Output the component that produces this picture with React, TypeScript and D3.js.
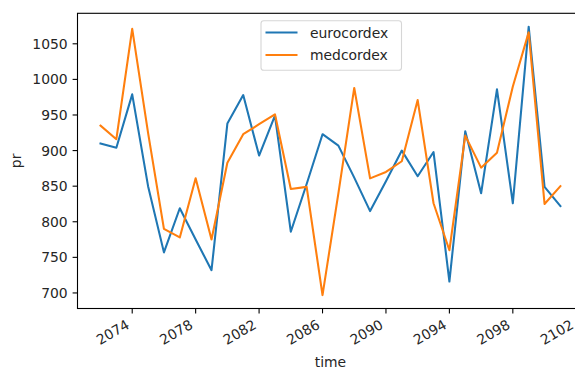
import React from "react";
import * as d3 from "d3";

const years = d3.range(2072, 2102);
const eurocordex = [910, 904, 979, 850, 757, 819, 775, 732, 938, 978, 893, 949, 786, 853, 923, 907, 862, 815, 857, 900, 864, 898, 716, 927, 840, 986, 826, 1074, 849, 822];
const medcordex = [935, 916, 1071, 925, 790, 778, 861, 775, 883, 923, 937, 951, 846, 849, 697, 840, 988, 861, 870, 885, 971, 826, 760, 921, 876, 897, 990, 1066, 825, 850];
const xTicks = [2074, 2078, 2082, 2086, 2090, 2094, 2098, 2102];
const yTicks = [700, 750, 800, 850, 900, 950, 1000, 1050];
const seriesNames = ["eurocordex", "medcordex"];
const colors = ["#1f77b4", "#ff7f0e"];

const W = 575, H = 371;
const L = 77.5, R = 583.4, T = 13.3, B = 308.5;
const FONT = "DejaVu Sans, sans-serif";
const FS = 13.9;

export default function App() {
  const x = d3.scaleLinear().domain([2070.55, 2102.45]).range([L, R]);
  const all = [...eurocordex, ...medcordex];
  const [mn, mx] = d3.extent(all) as [number, number];
  const pad = (mx - mn) * 0.05;
  const y = d3.scaleLinear().domain([mn - pad, mx + pad]).range([B, T]);
  const series = [eurocordex, medcordex];
  const line = d3.line<number>().x((_, i) => x(years[i])).y((d) => y(d));

  return (
    <div style={{ position: "absolute", left: 0, top: 0 }}>
      <svg width={W} height={H} style={{ display: "block" }} fontFamily={FONT}>
        <rect x={0} y={0} width={W} height={H} fill="#fff" />
        <defs>
          <clipPath id="plot">
            <rect x={L} y={T} width={R - L} height={B - T} />
          </clipPath>
        </defs>
        <g clipPath="url(#plot)">
          {series.map((s, k) => (
            <path key={k} d={line(s) || ""} fill="none" stroke={colors[k]} strokeWidth={2.08} strokeLinejoin="round" strokeLinecap="square" />
          ))}
        </g>
        {/* spines */}
        <rect x={L} y={T} width={R - L} height={B - T} fill="none" stroke="#000" strokeWidth={1.1} />
        {/* y ticks */}
        {yTicks.map((t) => (
          <g key={t}>
            <line x1={L - 4.9} x2={L} y1={y(t)} y2={y(t)} stroke="#000" strokeWidth={1.1} />
            <text x={L - 9.8} y={y(t)} dy="0.36em" textAnchor="end" fontSize={FS} fill="#262626">{t}</text>
          </g>
        ))}
        {/* x ticks */}
        {xTicks.map((t) => {
          const tx = x(t);
          const ty = B + 9.8;
          const ox = tx - 1.7;
          const oy = ty + 9.2;
          return (
            <g key={t}>
              <line x1={tx} x2={tx} y1={B} y2={B + 4.9} stroke="#000" strokeWidth={1.1} />
              <text x={ox} y={oy} textAnchor="end" fontSize={FS} fill="#262626" transform={`rotate(-30 ${ox} ${oy})`}>{t}</text>
            </g>
          );
        })}
        <text x={(L + R) / 2} y={367} textAnchor="middle" fontSize={FS} fill="#262626">time</text>
        <text transform={`translate(20.5 ${(T + B) / 2}) rotate(-90)`} textAnchor="middle" fontSize={FS} fill="#262626">pr</text>
        {/* legend */}
        <rect x={261} y={20.7} width={140.5} height={49.5} rx={2.8} fill="rgba(255,255,255,0.8)" stroke="#d6d6d6" strokeWidth={1.1} />
        {seriesNames.map((n, k) => {
          const cy = 32.5 + k * 22.5;
          return (
            <g key={n}>
              <line x1={265.5} x2={297.5} y1={cy} y2={cy} stroke={colors[k]} strokeWidth={2.08} />
              <text x={310} y={cy} dy="0.36em" fontSize={FS} fill="#262626">{n}</text>
            </g>
          );
        })}
      </svg>
    </div>
  );
}
